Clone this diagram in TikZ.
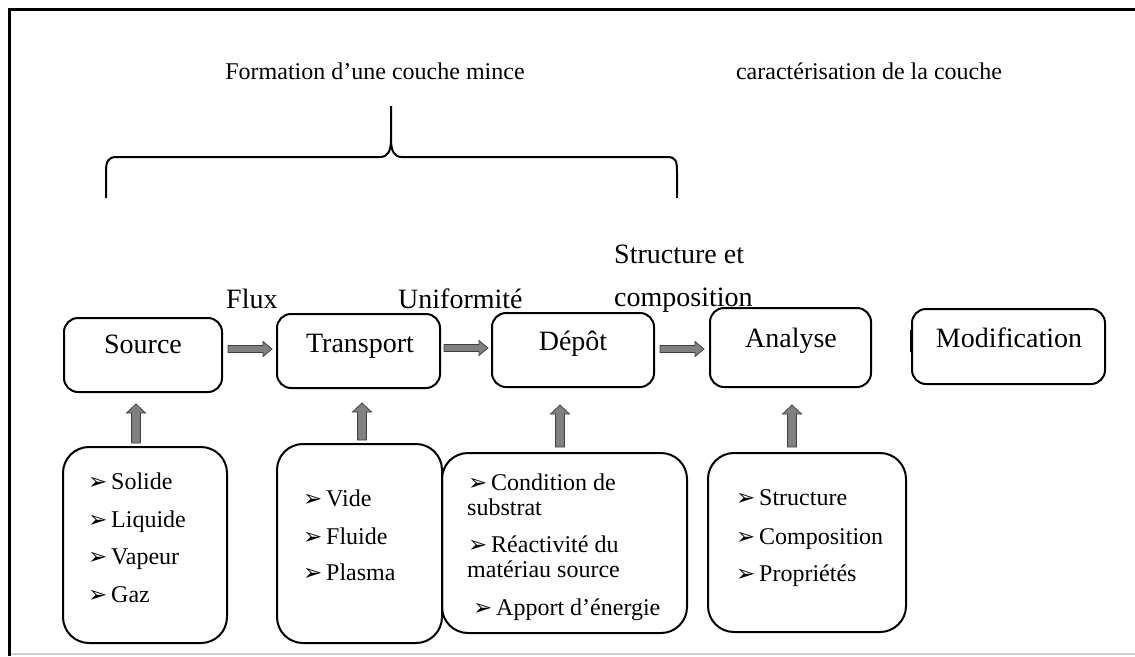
\documentclass[tikz,border=0pt]{standalone}
\usepackage{fontspec}
\setmainfont{Liberation Serif}
\newfontfamily\dejavu{DejaVu Sans}
\usetikzlibrary{calc}
\newcommand\bul{{\dejavu\fontsize{23}{23}\selectfont ➢}}
\newcommand\itm[1]{\makebox[23pt][l]{\bul}#1}
\begin{document}
\begin{tikzpicture}[x=1pt,y=-1pt,
  box/.style={draw, line width=2pt, rounded corners=14pt, inner sep=0pt},
  listbox/.style={draw, line width=2pt, rounded corners=26pt, inner sep=0pt},
  lbl/.style={anchor=base, font=\fontsize{28}{28}\selectfont, inner sep=0pt},
  ttl/.style={anchor=base, font=\fontsize{24}{24}\selectfont, inner sep=0pt},
  flow/.style={anchor=base west, font=\fontsize{28}{28}\selectfont, inner sep=0pt},
  item/.style={anchor=base west, font=\fontsize{24}{24}\selectfont, inner sep=0pt},
  fat/.style={draw=black!75, line width=0.8pt, fill=black!50, line join=miter},
  hfat/.style={fat, to path={let \p1=(\tikztostart), \p2=(\tikztotarget) in
     ({\x1},{\y1+3.5pt}) -- ({\x2-9pt},{\y1+3.5pt}) -- ({\x2-9pt},{\y1+7.5pt}) -- ({\x2},{\y1})
     -- ({\x2-9pt},{\y1-7.5pt}) -- ({\x2-9pt},{\y1-3.5pt}) -- ({\x1},{\y1-3.5pt}) -- cycle}},
  vfat/.style={fat, to path={let \p1=(\tikztostart), \p2=(\tikztotarget) in
     ({\x1-4.5pt},{\y1}) -- ({\x1-4.5pt},{\y2-9pt}) -- ({\x1-9.5pt},{\y2-9pt}) -- ({\x1},{\y2})
     -- ({\x1+9.5pt},{\y2-9pt}) -- ({\x1+4.5pt},{\y2-9pt}) -- ({\x1+4.5pt},{\y1}) -- cycle}}
]
\useasboundingbox (0,0) rectangle (1135,656);
\fill[white] (0,0) rectangle (1135,656);
% frame
\draw[gray!35, line width=2pt] (11,654) -- (1135,654);
\draw[line width=3pt] (9.5,656) -- (9.5,9.5) -- (1135,9.5);

% titles
\node[ttl] (t1) at (375,79) {Formation d’une couche mince};
\node[ttl] (t2) at (869,79) {caractérisation de la couche};

% brace
\draw[line width=2pt]
  (106,198) -- (106,172) .. controls (106,161) and (108,157) .. (117,157)
  -- (380,157) .. controls (388,157) and (391,151) .. (391,139) -- (391,106);
\draw[line width=2pt]
  (391,139) .. controls (391,151) and (394,157) .. (402,157)
  -- (667,157) .. controls (676,157) and (677,161) .. (677,172) -- (677,198);

% flow labels
\node[flow] (fl) at (226,308) {Flux};
\node[flow] (un) at (398,308) {Uniformité};
\node[flow] (se) at (614,263) {Structure et};
\node[flow] (co) at (614,306) {composition};

% main boxes
\node[box, minimum width=158pt, minimum height=74pt] (src) at (143,355) {};
\node[box, minimum width=163pt, minimum height=74pt] (trp) at (358.5,351) {};
\node[box, minimum width=162pt, minimum height=74pt] (dep) at (573,350) {};
\node[box, minimum width=161pt, minimum height=79pt] (ana) at (790.5,347.5) {};
\node[box, minimum width=193pt, minimum height=75pt] (mod) at (1008.5,346.5) {};
\node[lbl] (srcl) at (143,353) {Source};
\node[lbl] (trpl) at (360,352) {Transport};
\node[lbl] (depl) at (573,350) {Dépôt};
\node[lbl] (anal) at (791,347) {Analyse};
\node[lbl] (modl) at (1009,347) {Modification};
\draw[line width=3pt] (911,330) -- (911,352);

% list boxes
\node[listbox, minimum width=164pt, minimum height=196pt] (srcb) at (145,545) {};
\node[listbox, minimum width=165pt, minimum height=199pt] (trpb) at (359.5,543.5) {};
\node[listbox, minimum width=245pt, minimum height=180pt] (depb) at (564.5,543) {};
\node[listbox, minimum width=198pt, minimum height=179pt] (anab) at (807,542.5) {};

% list items
\node[item] (s1) at (88,489) {\itm{Solide}};
\node[item] (s2) at (88,527) {\itm{Liquide}};
\node[item] (s3) at (88,564) {\itm{Vapeur}};
\node[item] (s4) at (88,602) {\itm{Gaz}};

\node[item] (p1) at (303,506) {\itm{Vide}};
\node[item] (p2) at (303,544) {\itm{Fluide}};
\node[item] (p3) at (303,580) {\itm{Plasma}};

\node[item] (d1) at (468,490) {\itm{Condition de}};
\node[item] (d1b) at (467,515) {substrat};
\node[item] (d2) at (468,552) {\itm{Réactivité du}};
\node[item] (d2b) at (467,577) {matériau source};
\node[item] (d3) at (473,615) {\itm{Apport d’énergie}};

\node[item] (a1) at (736,505) {\itm{Structure}};
\node[item] (a2) at (736,544) {\itm{Composition}};
\node[item] (a3) at (736,581) {\itm{Propriétés}};

% arrow ends
\coordinate (h1s) at (228,349); \coordinate (h1e) at (272,349);
\coordinate (h2s) at (444,348); \coordinate (h2e) at (488,348);
\coordinate (h3s) at (660,349); \coordinate (h3e) at (704,349);
\coordinate (v1s) at (136,443); \coordinate (v1e) at (136,404);
\coordinate (v2s) at (362,440); \coordinate (v2e) at (362,403);
\coordinate (v3s) at (560,447); \coordinate (v3e) at (560,405);
\coordinate (v4s) at (792,447); \coordinate (v4e) at (792,405);

\draw[hfat] (h1s) to (h1e);
\draw[hfat] (h2s) to (h2e);
\draw[hfat] (h3s) to (h3e);
\draw[vfat] (v1s) to (v1e);
\draw[vfat] (v2s) to (v2e);
\draw[vfat] (v3s) to (v3e);
\draw[vfat] (v4s) to (v4e);
\end{tikzpicture}
\end{document}
